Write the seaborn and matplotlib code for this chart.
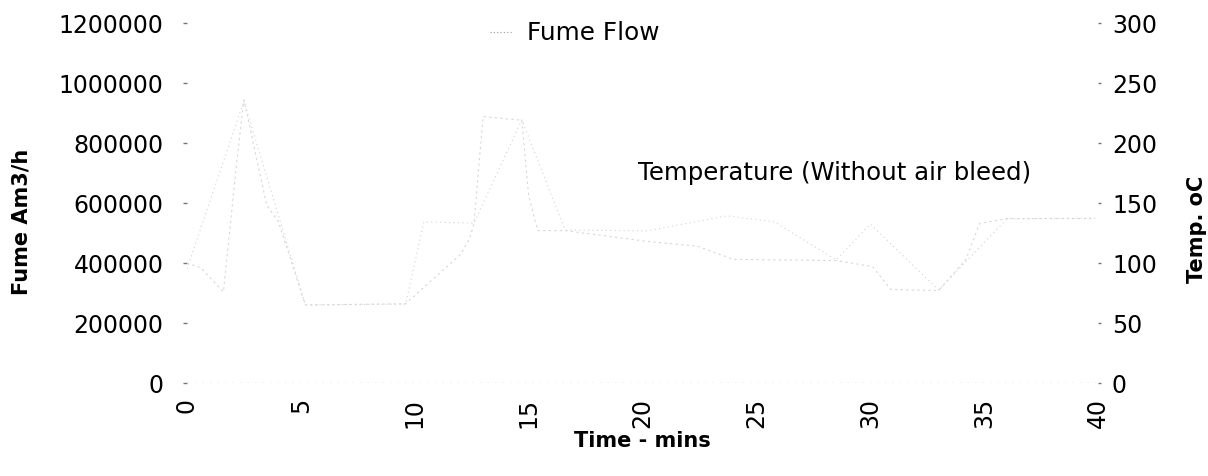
import matplotlib
matplotlib.use("Agg")
import matplotlib.pyplot as plt
import seaborn as sns
import pandas as pd

# ---- data ----
temp_time = [0, 0.6, 1.6, 2.2, 2.5, 3.5, 4.0, 5.2, 9.6, 12.0, 12.4, 12.6, 13.0,
             14.7, 15.0, 15.4, 16.6, 20.2, 22.4, 24.0, 28.5, 30.1, 30.9, 33.0,
             34.2, 34.8, 36.0, 37.6, 39.7]
temp_values = [100, 96, 76, 187, 236, 148, 135, 65, 66, 107, 120, 133, 222,
               219, 156, 127, 127, 118, 114, 103, 102, 97, 78, 77,
               103, 133, 137, 137, 137]

flow_time = [0, 2.5, 5.2, 9.6, 10.4, 12.6, 14.7, 16.6, 20.2, 23.7, 25.8, 28.5,
             30.0, 33.0, 36.0, 40.0]
flow_values = [380000, 940000, 260000, 263000, 537000, 533000, 877000, 510000,
               507000, 557000, 537000, 410000, 530000, 310000, 547000, 550000]

x_ticks = [0, 5, 10, 15, 20, 25, 30, 35, 40]
left_ticks = [0, 200000, 400000, 600000, 800000, 1000000, 1200000]
right_ticks = [0, 50, 100, 150, 200, 250, 300]

flow_label = "Fume Flow"
temp_label = "Temperature (Without air bleed)"

sns.set_style("white")
plt.rcParams["font.family"] = ["DejaVu Sans"]
plt.rcParams["text.color"] = "black"
plt.rcParams["axes.labelcolor"] = "black"
plt.rcParams["xtick.color"] = "black"
plt.rcParams["ytick.color"] = "black"

fig = plt.figure(figsize=(12.08, 4.77), dpi=100)
ax = fig.add_axes([0.1548, 0.195, 0.7542, 0.7547])
ax2 = ax.twinx()

flow_df = pd.DataFrame({"time": flow_time, "flow": flow_values})
temp_df = pd.DataFrame({"time": temp_time, "temp": temp_values})

sns.lineplot(data=flow_df, x="time", y="flow", ax=ax, color="#d2d2d2",
             linewidth=0.8, linestyle=(0, (1, 3)))
sns.lineplot(data=temp_df, x="time", y="temp", ax=ax2, color="#d6d6d6",
             linewidth=0.8, linestyle=(0, (2, 3)))

ax.set_xlim(0, 40)
ax.set_ylim(0, 1200000)
ax2.set_ylim(0, 300)
ax.set_xticks(x_ticks)
ax.set_xticklabels([str(t) for t in x_ticks], rotation=90)
ax.set_yticks(left_ticks)
ax.set_yticklabels([str(v) for v in left_ticks])
ax2.set_yticks(right_ticks)
ax2.set_yticklabels([str(v) for v in right_ticks])

for a in (ax, ax2):
    for s in a.spines.values():
        s.set_visible(False)
ax.axhline(0, color="#666666", linewidth=0.9, linestyle=(0, (1, 5)))

ax.tick_params(axis="x", length=0, pad=10, labelsize=17, colors="black")
ax.tick_params(axis="y", length=3, width=1, color="#777777", pad=14,
               labelsize=17, labelcolor="black")
ax2.tick_params(axis="y", length=2, width=1, color="#777777", pad=8,
                labelsize=17, labelcolor="black")

ax.set_xlabel("Time - mins", fontsize=15, fontweight="bold", labelpad=2)
ax.set_ylabel("Fume Am3/h", fontsize=15, fontweight="bold")
ax2.set_ylabel("Temp. oC", fontsize=15, fontweight="bold")
ax.yaxis.set_label_coords(-0.171, 0.45, transform=ax.transAxes)
ax2.yaxis.set_label_coords(1.0977, 0.43, transform=ax2.transAxes)

# in-plot labels
ax.plot([0.333, 0.357], [0.975, 0.975], transform=ax.transAxes, color="#999999",
        linewidth=0.8, linestyle=(0, (1, 2)))
ax.text(0.373, 0.975, flow_label, transform=ax.transAxes, fontsize=17.8,
        va="center", ha="left")
ax.text(0.495, 0.586, temp_label, transform=ax.transAxes, fontsize=17.6,
        va="center", ha="left")

ax.grid(False)
ax2.grid(False)
fig.savefig("out.png", dpi=100)
